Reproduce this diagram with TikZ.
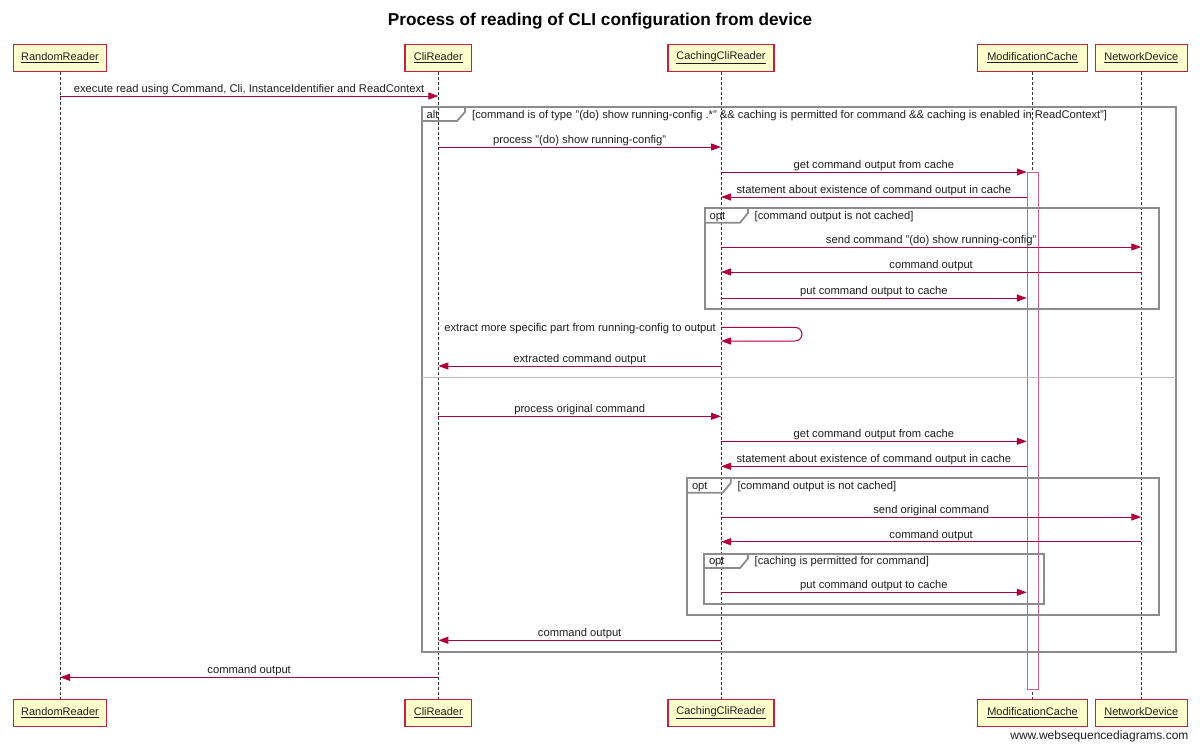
\documentclass[tikz,border=0pt]{standalone}
\usepackage{fontspec}
\setmainfont{Liberation Sans}
\usetikzlibrary{arrows.meta}
\definecolor{wsdred}{RGB}{176,0,58}
\definecolor{wsdbox}{RGB}{255,255,206}
\definecolor{wsdedge}{RGB}{200,30,70}
\definecolor{wsdpink}{RGB}{212,96,136}
\definecolor{wsdgrey}{RGB}{140,140,140}
\definecolor{wsdtext}{RGB}{30,30,30}

\begin{document}
\begin{tikzpicture}[x=1pt,y=-1pt,
    head/.style={draw=wsdedge,line width=1.2pt,fill=wsdbox,minimum height=27pt,
      inner xsep=3pt,font=\fontsize{11}{13}\selectfont,text=wsdtext},
    life/.style={dash pattern=on 3pt off 2pt,line width=0.9pt,black!80},
    msg/.style={draw=wsdred,line width=1pt,-{Triangle[length=10pt,width=7pt]}},
    lbl/.style={font=\fontsize{11.2}{13}\selectfont,text=wsdtext,inner sep=0pt},
    mlbl/.style={lbl,midway,anchor=base,yshift=3.5pt},
    frame/.style={draw=wsdgrey,line width=1.8pt},
    actbar/.style={draw=wsdpink,fill=white,line width=1.1pt,minimum width=11pt,inner sep=0pt}]
  \useasboundingbox (0,0) rectangle (1200,748);
  % title
  \node[font=\bfseries\fontsize{17.2}{20}\selectfont,text=black,anchor=base] (title) at (600,25)
    {Process of reading of CLI configuration from device};
  % participants, top row
  \node[head,minimum width=93pt] (rrA) at (60,58) {\underline{RandomReader}};
  \node[head,minimum width=66.7pt] (crA) at (438.3,58) {\underline{CliReader}};
  \node[head,minimum width=106pt] (ccrA) at (721,58) {\underline{CachingCliReader}};
  \node[head,minimum width=109.6pt] (mcA) at (1032.5,58) {\underline{ModificationCache}};
  \node[head,minimum width=92pt] (ndA) at (1141.3,58) {\underline{NetworkDevice}};
  % participants, bottom row
  \node[head,minimum width=93pt] (rrB) at (60,713) {\underline{RandomReader}};
  \node[head,minimum width=66.7pt] (crB) at (438.3,713) {\underline{CliReader}};
  \node[head,minimum width=106pt] (ccrB) at (721,713) {\underline{CachingCliReader}};
  \node[head,minimum width=109.6pt] (mcB) at (1032.5,713) {\underline{ModificationCache}};
  \node[head,minimum width=92pt] (ndB) at (1141.3,713) {\underline{NetworkDevice}};
  % lifelines
  \draw[life] (rrA) -- (rrB);
  \draw[life] (crA) -- (crB);
  \draw[life] (ccrA) -- (ccrB);
  \draw[life] (mcA) -- (mcB);
  \draw[life] (ndA) -- (ndB);
  % activation of the cache
  \node[actbar,minimum height=516.5pt,anchor=north] (mcBar) at (1032.8,172) {};
  % alt frame
  \draw[frame] (422,107.3) rectangle (1175.7,652);
  \draw[frame] (422,121) -- (457,121) -- (465,112) -- (465,107.3);
  \node[lbl,anchor=base west] (altTag) at (426.5,118.3) {alt};
  \node[lbl,anchor=base west] (altCond) at (472,118.3)
    {[command is of type "(do) show running-config .*" \&\& caching is permitted for command \&\& caching is enabled in ReadContext"]};
  \draw[wsdgrey!60,line width=1pt] (422,377.7) -- (1175.7,377.7);
  % first opt frame
  \draw[frame] (705,208.3) rectangle (1158.7,308.7);
  \draw[frame] (705,222.7) -- (740,222.7) -- (748,213) -- (748,208.3);
  \node[lbl,anchor=base west] (optTagA) at (709.5,219.3) {opt};
  \node[lbl,anchor=base west] (optCondA) at (754.5,219.3) {[command output is not cached]};
  % second opt frame
  \draw[frame] (687.3,478.3) rectangle (1158.7,615.3);
  \draw[frame] (687.3,492.7) -- (722.7,492.7) -- (730.7,483) -- (730.7,478.3);
  \node[lbl,anchor=base west] (optTagB) at (691.8,489.3) {opt};
  \node[lbl,anchor=base west] (optCondB) at (737.3,489.3) {[command output is not cached]};
  % inner opt frame
  \draw[frame] (704.3,553.7) rectangle (1044,604);
  \draw[frame] (704.3,568) -- (740,568) -- (748,558.5) -- (748,553.7);
  \node[lbl,anchor=base west] (optTagC) at (708.8,564.7) {opt};
  \node[lbl,anchor=base west] (optCondC) at (754.5,564.7) {[caching is permitted for command]};
  % messages, running-config branch
  \draw[msg] (rrA |- 0,96) -- node[mlbl]{execute read using Command, Cli, InstanceIdentifier and ReadContext} (crA |- 0,96);
  \draw[msg] (crA |- 0,147) -- node[mlbl]{process "(do) show running-config"} (ccrA |- 0,147);
  \draw[msg] (ccrA |- 0,172) -- node[mlbl]{get command output from cache} (mcBar.west |- 0,172);
  \draw[msg] (mcBar.west |- 0,197) -- node[mlbl]{statement about existence of command output in cache} (ccrA |- 0,197);
  \draw[msg] (ccrA |- 0,247) -- node[mlbl]{send command "(do) show running-config"} (ndA |- 0,247);
  \draw[msg] (ndA |- 0,272) -- node[mlbl]{command output} (ccrA |- 0,272);
  \draw[msg] (ccrA |- 0,298) -- node[mlbl]{put command output to cache} (mcBar.west |- 0,298);
  % self call
  \draw[msg,rounded corners=7pt] (ccrA |- 0,327.3) -- (802,327.3) -- (802,341) -- (ccrA |- 0,341);
  \node[lbl,anchor=base east] (selfLbl) at (716,331)
    {extract more specific part from running-config to output};
  \draw[msg] (ccrA |- 0,366) -- node[mlbl]{extracted command output} (crA |- 0,366);
  % messages, other commands
  \draw[msg] (crA |- 0,416.3) -- node[mlbl]{process original command} (ccrA |- 0,416.3);
  \draw[msg] (ccrA |- 0,441.3) -- node[mlbl]{get command output from cache} (mcBar.west |- 0,441.3);
  \draw[msg] (mcBar.west |- 0,466.3) -- node[mlbl]{statement about existence of command output in cache} (ccrA |- 0,466.3);
  \draw[msg] (ccrA |- 0,517) -- node[mlbl]{send original command} (ndA |- 0,517);
  \draw[msg] (ndA |- 0,541.7) -- node[mlbl]{command output} (ccrA |- 0,541.7);
  \draw[msg] (ccrA |- 0,592.3) -- node[mlbl]{put command output to cache} (mcBar.west |- 0,592.3);
  \draw[msg] (ccrA |- 0,640.3) -- node[mlbl]{command output} (crA |- 0,640.3);
  \draw[msg] (crA |- 0,677.3) -- node[mlbl]{command output} (rrA |- 0,677.3);
  % footer
  \node[anchor=base east,font=\fontsize{12}{14}\selectfont,text=wsdtext] (footer) at (1192,739)
    {www.websequencediagrams.com};
\end{tikzpicture}
\end{document}
